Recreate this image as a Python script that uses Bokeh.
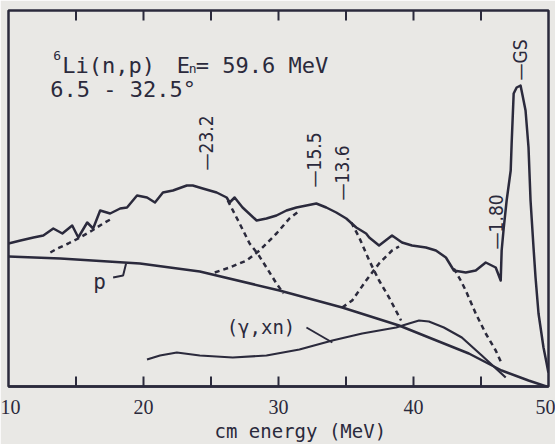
from bokeh.plotting import figure
from bokeh.models import Label, FixedTicker, ColumnDataSource, Title
from bokeh.embed import file_html
from bokeh.resources import INLINE
from bokeh.core.properties import value
import math

# 6Li(n,p) proton spectrum, cm energy (MeV) vs counts (arbitrary units)
spec_e = [10.00, 10.89, 11.85, 12.58, 13.32, 13.99, 14.72, 15.17, 15.83, 16.27,
          16.79, 17.53, 18.27, 18.78, 19.52, 20.26, 20.85, 21.44, 22.18, 23.21,
          23.65, 24.39, 25.42, 26.16, 26.38, 26.75, 27.34, 28.38, 29.11, 29.85,
          30.59, 31.33, 32.07, 32.80, 33.54, 34.28, 35.02, 35.76, 36.49, 36.72,
          37.45, 38.41, 39.15, 39.89, 40.92, 41.66, 42.40, 42.99, 43.87, 44.61,
          45.35, 46.09, 46.46, 46.53, 46.68, 46.90, 47.05, 47.20, 47.27, 47.42,
          47.64, 47.93, 48.08, 48.30, 48.52, 48.67, 48.89, 49.04, 49.26, 49.63,
          49.85, 49.99]
spec_y = [143, 146, 149, 151, 158, 153, 161, 149, 164, 158,
          176, 173, 178, 179, 191, 189, 184, 194, 196, 201,
          201, 198, 194, 189, 184, 189, 179, 166, 168, 171,
          176, 179, 181, 183, 179, 174, 168, 159, 153, 149,
          141, 151, 144, 141, 139, 136, 129, 116, 114, 116,
          124, 119, 106, 136, 158, 186, 201, 216, 243, 293,
          299, 301, 291, 276, 239, 186, 139, 109, 73, 39,
          24, 14]

# smooth "p" background
p_e = [10.00, 13.84, 19.74, 24.17, 30.07, 34.72, 38.93, 41.14, 44.10, 46.53, 48.52, 49.85]
p_y = [130, 128, 123, 115, 96, 79, 61, 49, 33, 16, 6, 0]

# (gamma, xn) contribution
gxn_e = [20.26, 21.22, 22.47, 24.17, 26.61, 29.11, 31.55, 33.99, 36.20, 38.71,
         39.67, 40.41, 41.14, 42.25, 43.58, 45.06, 46.83]
gxn_y = [27, 31, 34, 31, 29, 31, 37, 46, 53, 59, 63, 66, 65, 59, 49, 31, 9]

# fitted peak components (visible flanks)
comp_e = [
    [13.10, 13.62, 14.43, 15.17, 16.20, 17.01, 17.68],
    [26.24, 27.12, 27.86, 28.45, 29.11, 29.85, 30.37],
    [25.28, 26.38, 27.64, 28.60, 29.85, 30.81, 31.40],
    [35.39, 35.98, 36.72, 37.45, 38.19, 39.08],
    [34.72, 35.46, 36.49, 37.45, 38.41, 38.93],
    [42.99, 43.50, 43.87, 44.61, 45.35, 46.09, 46.53],
]
comp_y = [
    [134, 138, 143, 148, 156, 163, 168],
    [186, 163, 143, 133, 119, 103, 93],
    [114, 119, 126, 136, 153, 168, 174],
    [164, 149, 126, 106, 89, 66],
    [79, 86, 106, 123, 136, 140],
    [118, 106, 96, 73, 53, 36, 23],
]

# level markers (excitation energies)
lvl_text = ["\u201423.2", "\u201415.5", "\u201413.6", "\u20141.80", "\u2014GS"]
lvl_e = [24.66, 32.62, 34.68, 46.10, 47.90]
lvl_y = [216, 199, 186, 137, 306]

tick_major = [10, 20, 30, 40, 50]
tick_inner = [15, 20, 25, 30, 35, 40, 45]

INK = "#2b2a3c"
PAPER = "#e9e8e5"
MONO = "DejaVu Sans Mono"
NARROW = "Liberation Sans Narrow"
Y_TOP = 376
TICK_LEN = 10

p = figure(width=555, height=444, x_range=(10, 50), y_range=(0, Y_TOP),
           output_backend="svg", toolbar_location=None,
           min_border_left=8, min_border_right=7, min_border_top=10,
           min_border_bottom=58)
p.background_fill_color = PAPER
p.border_fill_color = PAPER
p.outline_line_color = INK
p.outline_line_width = 2.5
p.grid.visible = False
p.yaxis.visible = False

xa = p.xaxis[0]
xa.ticker = FixedTicker(ticks=tick_major, minor_ticks=[])
xa.axis_line_color = INK
xa.axis_line_width = 2.5
xa.major_tick_line_color = None
xa.minor_tick_line_color = None
xa.major_label_standoff = 7
xa.major_label_text_font = NARROW
xa.major_label_text_font_size = "20px"
xa.major_label_text_color = INK

# inward tick marks on the bottom and top edges of the frame
p.segment(x0=tick_inner, y0=[0] * len(tick_inner), x1=tick_inner,
          y1=[TICK_LEN] * len(tick_inner), line_color=INK, line_width=2)
p.segment(x0=tick_inner, y0=[Y_TOP] * len(tick_inner), x1=tick_inner,
          y1=[Y_TOP - TICK_LEN] * len(tick_inner), line_color=INK, line_width=2)

# curves
p.line(p_e, p_y, line_color=INK, line_width=2.5, line_join="round")
p.line(gxn_e, gxn_y, line_color=INK, line_width=2.2, line_join="round")
p.multi_line(comp_e, comp_y, line_color=INK, line_width=2.5, line_dash="5 4")
p.line(spec_e, spec_y, line_color=INK, line_width=2.5, line_join="round")

# level markers
src = ColumnDataSource(dict(x=lvl_e, y=lvl_y, t=lvl_text))
p.text(x="x", y="y", text="t", source=src, angle=math.pi / 2,
       text_align="left", text_baseline="middle", text_color=INK,
       text_font=value("DejaVu Sans Condensed"), text_font_size="19px")

# leaders for the p and (gamma, xn) labels
p.line([17.75, 18.49, 18.71], [109, 111, 123], line_color=INK, line_width=2)
p.line([32.07, 33.99], [59, 44], line_color=INK, line_width=2)


def lab(x, y, text, font=MONO, size="22px", align="left", baseline="alphabetic"):
    p.add_layout(Label(x=x, y=y, text=text, text_font=font, text_font_size=size,
                       text_color=INK, text_align=align, text_baseline=baseline))


# header
lab(13.32, 331, "6", size="13px")
lab(13.99, 321, "Li(n,p)")
lab(22.47, 321, "E")
lab(23.36, 318, "n", size="13px")
lab(23.87, 321, "= 59.6 MeV")
lab(13.10, 297, "6.5 - 32.5\u00b0")

lab(16.27, 105, "p", size="21px")
lab(26.16, 60, "(\u03b3,xn)", size="19px", baseline="middle")

p.add_layout(Title(text="cm energy (MeV)", align="left", offset=206,
                   text_font=MONO, text_font_size="19px", text_font_style="normal",
                   text_color=INK, standoff=2), "below")

open("out.html", "w").write(file_html(p, INLINE))
